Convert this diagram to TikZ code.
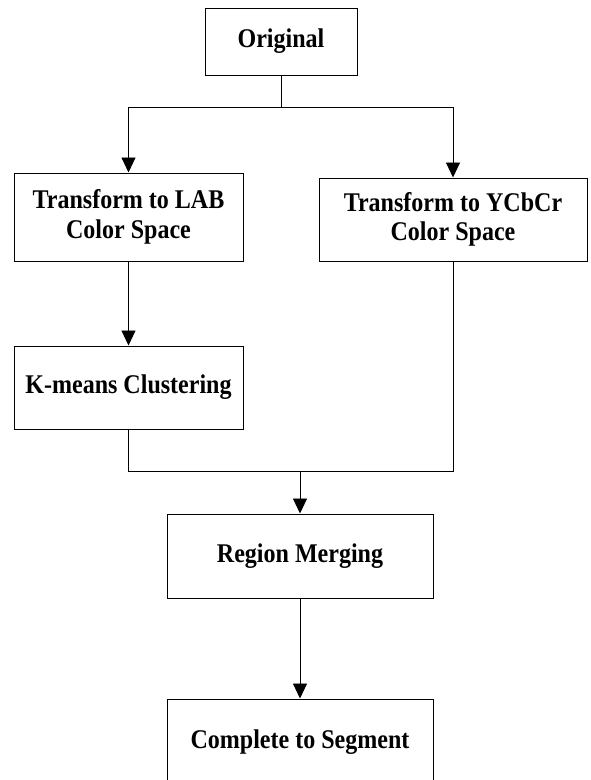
\documentclass[tikz,border=0pt]{standalone}
\usepackage{fontspec}
\setmainfont{Liberation Serif}
\newfontfamily\boxfont[FakeStretch=0.89]{Liberation Serif}
\usetikzlibrary{arrows.meta}

\begin{document}
\begin{tikzpicture}[x=10pt,y=10pt]
\tikzstyle{stage}=[draw=black, line width=1pt, inner sep=0pt, align=center, font=\boxfont\fontsize{27}{29.5}\selectfont\bfseries]
\tikzstyle{flow}=[draw=black, line width=0.9pt, -{Triangle[length=15pt,width=14pt]}]
\tikzstyle{wire}=[draw=black, line width=0.9pt]
\useasboundingbox (0,0) rectangle (59,-78);
\clip (0,0) rectangle (59,-78);
\node [stage, minimum width=152pt, minimum height=67pt] (orig) at (28.1,-4.15) {Original};
\node [stage, minimum width=229pt, minimum height=88pt] (lab) at (12.85,-21.7) {Transform to LAB\\Color Space};
\node [stage, minimum width=268pt, minimum height=83pt] (ycc) at (45.3,-21.95) {Transform to YCbCr\\Color Space};
\node [stage, minimum width=229pt, minimum height=83pt] (km) at (12.85,-38.75) {K-means Clustering};
\node [stage, minimum width=266pt, minimum height=84pt] (rm) at (30,-55.6) {Region Merging};
\node [stage, minimum width=266pt, minimum height=86pt] (cs) at (30,-74.2) {Complete to Segment};
\coordinate (split) at (28.1,-10.7);
\coordinate (join) at (30,-47.1);
\draw [wire] (orig.south) -- (split);
\draw [flow] (split) -| (lab.north);
\draw [flow] (split) -| (ycc.north);
\draw [flow] (lab) -- (km);
\draw [wire] (km.south) |- (join);
\draw [wire] (ycc.south) |- (join);
\draw [flow] (join) -- (rm.north);
\draw [flow] (rm) -- (cs);
\end{tikzpicture}
\end{document}
